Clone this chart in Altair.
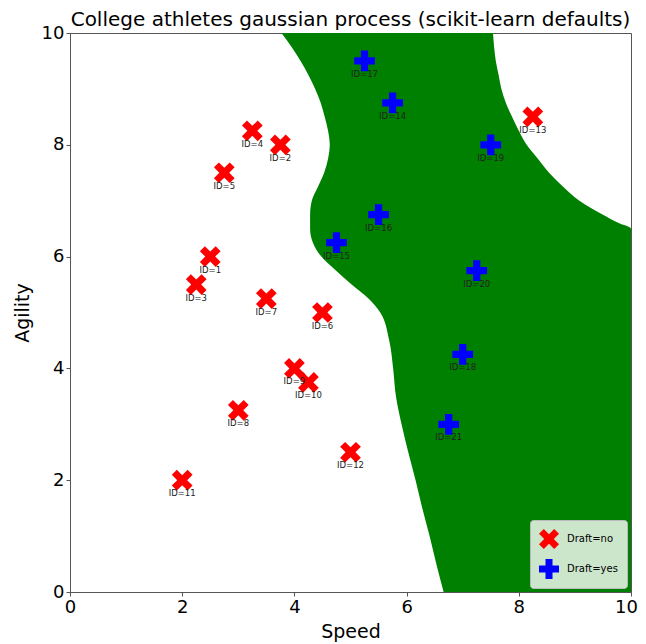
import altair as alt
import pandas as pd

# Athlete data
ids = list(range(1, 22))
speed = [2.5, 3.75, 2.25, 3.25, 2.75, 4.5, 3.5, 3.0, 4.0, 4.25, 2.0, 5.0, 8.25,
         5.75, 4.75, 5.5, 5.25, 7.0, 7.5, 7.25, 6.75]
agility = [6.0, 8.0, 5.5, 8.25, 7.5, 5.0, 5.25, 3.25, 4.0, 3.75, 2.0, 2.5, 8.5,
           8.75, 6.25, 6.75, 9.5, 4.25, 8.0, 5.75, 3.0]
draft = ["no"] * 13 + ["yes"] * 8

# Decision region (Draft=yes) boundary
region_y = [0, 0.5, 1, 1.5, 2, 2.5, 3, 3.5, 4, 4.5, 5, 5.25, 5.5, 5.75, 6, 6.25,
            6.5, 6.6, 6.75, 7, 7.25, 7.5, 7.75, 8, 8.25, 8.5, 8.75, 9, 9.25, 9.5, 9.75, 10]
region_left = [6.66, 6.53, 6.41, 6.28, 6.16, 6.03, 5.91, 5.81, 5.76, 5.69, 5.53, 5.32,
               5.02, 4.74, 4.48, 4.33, 4.28, 4.28, 4.28, 4.31, 4.42, 4.53, 4.60, 4.63,
               4.60, 4.54, 4.47, 4.37, 4.25, 4.11, 3.95, 3.77]
region_right = [10, 10, 10, 10, 10, 10, 10, 10, 10, 10, 10, 10, 10, 10, 10, 10,
                10, 9.78, 9.50, 9.08, 8.79, 8.54, 8.34, 8.14, 8.00, 7.88, 7.77, 7.69,
                7.64, 7.59, 7.56, 7.54]

pts = pd.DataFrame({
    "id": ids,
    "Speed": speed,
    "Agility": agility,
    "draft": ["Draft=" + d for d in draft],
})
pts["label"] = ["ID=%d" % i for i in ids]

region = pd.DataFrame({"y": region_y, "left": region_left, "right": region_right})

X_PATH = ("M-1,-0.52L-0.52,-1L0,-0.48L0.52,-1L1,-0.52L0.48,0L1,0.52L0.52,1"
          "L0,0.48L-0.52,1L-1,0.52L-0.48,0Z")
P_PATH = ("M-0.35,-1L0.35,-1L0.35,-0.35L1,-0.35L1,0.35L0.35,0.35L0.35,1"
          "L-0.35,1L-0.35,0.35L-1,0.35L-1,-0.35L-0.35,-0.35Z")

xs = alt.Scale(domain=[0, 10], nice=False, zero=False)
ys = alt.Scale(domain=[0, 10], nice=False, zero=False)

xaxis = alt.Axis(values=[0, 2, 4, 6, 8, 10], format="d", title="Speed", grid=False,
                 labelFlush=False,
                 labelOffset={"condition": {"test": "datum.value === 10", "value": -5},
                              "value": 0})
yaxis = alt.Axis(values=[0, 2, 4, 6, 8, 10], format="d", title="Agility", grid=False,
                 labelFlush=False)

area = alt.Chart(region).mark_area(orient="horizontal", color="#008000", clip=True,
                                   interpolate="monotone").encode(
    y=alt.Y("y:Q", scale=ys, axis=yaxis),
    x=alt.X("left:Q", scale=xs, axis=xaxis),
    x2="right:Q",
)

points = alt.Chart(pts).mark_point(filled=True, opacity=1, size=430, strokeWidth=0).encode(
    x=alt.X("Speed:Q", scale=xs),
    y=alt.Y("Agility:Q", scale=ys),
    color=alt.Color("draft:N",
                    scale=alt.Scale(domain=["Draft=no", "Draft=yes"], range=["#ff0000", "#0000ff"]),
                    legend=alt.Legend(title=None, orient="bottom-right")),
    shape=alt.Shape("draft:N",
                    scale=alt.Scale(domain=["Draft=no", "Draft=yes"], range=[X_PATH, P_PATH]),
                    legend=alt.Legend(title=None, orient="bottom-right")),
)

labels = alt.Chart(pts).mark_text(fontSize=8.5, dy=13, color="#222222", font="DejaVu Sans").encode(
    x=alt.X("Speed:Q", scale=xs),
    y=alt.Y("Agility:Q", scale=ys),
    text="label:N",
)

chart = alt.layer(area, points, labels).properties(
    width=561,
    height=559,
    title=alt.TitleParams("College athletes gaussian process (scikit-learn defaults)",
                          fontSize=20, font="DejaVu Sans", fontWeight="normal",
                          color="#000000", offset=6, anchor="middle", frame="group", dy=12),
    autosize=alt.AutoSizeParams(type="none"),
    padding={"left": 62, "top": 25, "right": 7, "bottom": 54},
).configure_view(
    stroke="#555555", strokeWidth=1
).configure_axis(
    labelFont="DejaVu Sans", titleFont="DejaVu Sans",
    labelFontSize=18, titleFontSize=19, titleFontWeight="normal",
    labelColor="#000000", titleColor="#000000",
    domainColor="#555555", tickColor="#555555", tickSize=4,
    labelPadding=2,
).configure_axisX(
    titlePadding=6,
).configure_axisY(
    titlePadding=9,
).configure_legend(
    fillColor="#cce6cc", strokeColor="#bbbbbb", cornerRadius=3, padding=9,
    labelFont="DejaVu Sans", labelFontSize=10, labelColor="#000000",
    symbolSize=400, rowPadding=10, offset=4, labelOffset=8,
    symbolStrokeWidth=0, symbolOpacity=1,
)

chart.save("out.html", embed_options={"renderer": "svg", "actions": False})
